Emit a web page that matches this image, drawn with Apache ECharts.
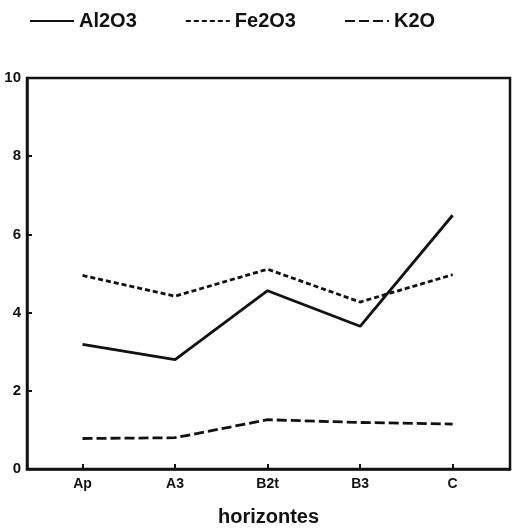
<!DOCTYPE html>
<html lang="pt">
<head>
    <meta charset="UTF-8">
    <title>horizontes</title>
    <script type="text/javascript" src="https://cdn.jsdelivr.net/npm/echarts@6/dist/echarts.min.js"></script>
    <style>
        html, body { margin: 0; padding: 0; background: #fff; }
    </style>
</head>
<body>
<div id="myChart" style="width:523px;height:532px;"></div>
<script type="text/javascript">
    var horizontes = ['Ap', 'A3', 'B2t', 'B3', 'C'];
    var al2o3 = [3.19, 2.80, 4.56, 3.65, 6.49];
    var fe2o3 = [4.95, 4.42, 5.11, 4.27, 4.97];
    var k2o   = [0.78, 0.80, 1.26, 1.19, 1.15];
    var yTicks = [0, 2, 4, 6, 8, 10];

    // pares [indice, valor] para o eixo x numerico
    function pares(arr) {
        return arr.map(function (v, i) { return [i, v]; });
    }

    var fonte = 'Liberation Sans, Arial, sans-serif';
    var myChart = echarts.init(document.getElementById('myChart'));
    var option = {
        animation: false,
        color: ['#111', '#111', '#111'],
        legend: {
            top: 6,
            left: 24,
            itemWidth: 44,
            itemHeight: 14,
            itemGap: 48,
            itemStyle: { opacity: 0 },
            textStyle: { fontFamily: fonte, fontSize: 20, fontWeight: 'bold', color: '#111' },
            data: ['Al2O3', 'Fe2O3', 'K2O']
        },
        grid: {
            left: 27,
            right: 13,
            top: 78,
            bottom: 59,
            show: true,
            borderColor: '#111',
            borderWidth: 2.5
        },
        xAxis: {
            type: 'value',
            min: -0.6,
            max: 4.62,
            splitLine: { show: false },
            axisLine: { onZero: false, lineStyle: { color: '#111', width: 2.5 } },
            axisTick: { inside: true, length: 5, customValues: [0, 1, 2, 3, 4], lineStyle: { color: '#111', width: 2 } },
            axisLabel: {
                customValues: [0, 1, 2, 3, 4],
                formatter: function (v) { return horizontes[Math.round(v)]; },
                fontFamily: fonte, fontSize: 14, fontWeight: 'bold', color: '#111', margin: 8
            },
            name: 'horizontes',
            nameLocation: 'middle',
            nameGap: 38,
            nameTextStyle: { fontFamily: fonte, fontSize: 20, fontWeight: 'bold', color: '#111' }
        },
        yAxis: {
            type: 'value',
            min: 0,
            max: 10,
            interval: 2,
            splitLine: { show: false },
            axisLine: { show: true, onZero: false, lineStyle: { color: '#111', width: 2.5 } },
            axisTick: { show: true, inside: true, length: 5, lineStyle: { color: '#111', width: 2 } },
            axisLabel: {
                formatter: function (v) { return yTicks.indexOf(v) >= 0 ? String(v) : ''; },
                fontFamily: fonte, fontSize: 15, fontWeight: 'bold', color: '#111', margin: 6
            }
        },
        series: [
            {
                name: 'Al2O3',
                type: 'line',
                symbol: 'none',
                data: pares(al2o3),
                lineStyle: { color: '#111', width: 2.8, type: 'solid' }
            },
            {
                name: 'Fe2O3',
                type: 'line',
                symbol: 'none',
                data: pares(fe2o3),
                lineStyle: { color: '#111', width: 2.8, type: [5, 3] }
            },
            {
                name: 'K2O',
                type: 'line',
                symbol: 'none',
                data: pares(k2o),
                lineStyle: { color: '#111', width: 2.8, type: [10, 4] }
            }
        ]
    };
    myChart.setOption(option);
</script>
</body>
</html>
